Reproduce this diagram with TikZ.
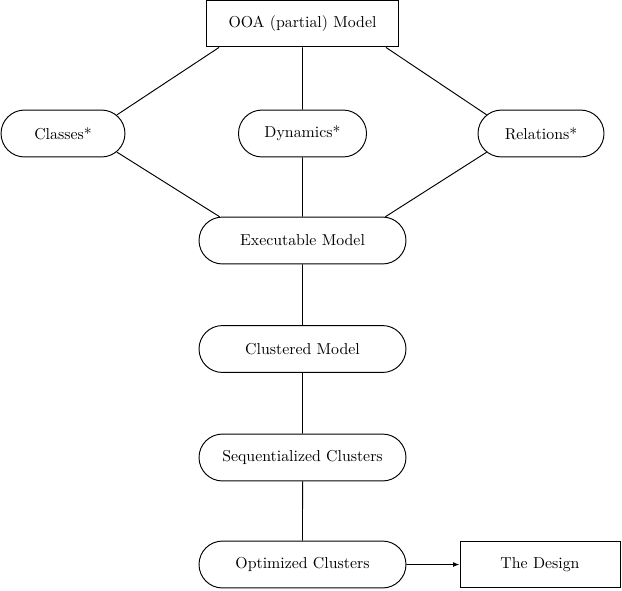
\documentclass[tikz,border=0pt]{standalone}
\usepackage{tikz}
\usetikzlibrary{shapes.misc,arrows.meta}
\tikzset{
  stage/.style={draw, rounded rectangle, minimum height=29.6pt, inner sep=0pt},
  result/.style={draw, rectangle, minimum height=29.6pt, inner sep=0pt},
}
\begin{document}
\begin{tikzpicture}[x=0.631pt, y=-0.631pt, line width=0.6pt]
	\useasboundingbox (0,0) rectangle (622,590);
	\node[result, minimum width=121pt] (ooa) at (302.5,23.5) {OOA (partial) Model};
	\node[stage, minimum width=78.2pt] (classes) at (63,133.5) {Classes*};
	\node[stage, minimum width=80.8pt] (dynamics) at (302.5,133.5) {Dynamics*};
	\node[stage, minimum width=79.5pt] (relations) at (541,133.5) {Relations*};
	\node[stage, minimum width=130.6pt] (exec) at (302.5,240.5) {Executable Model};
	\node[stage, minimum width=130.6pt] (clustered) at (302.5,349) {Clustered Model};
	\node[stage, minimum width=130.6pt] (seq) at (302.5,457.5) {Sequentialized Clusters};
	\node[stage, minimum width=130.6pt] (opt) at (302.5,564.5) {Optimized Clusters};
	\node[result, minimum width=101pt] (design) at (540,564.5) {The Design};
	\draw (ooa.196) -- (classes.19);
	\draw (ooa) -- (dynamics);
	\draw (ooa.-16) -- (relations.161);
	\draw (classes.-19) -- (exec.164);
	\draw (dynamics) -- (exec);
	\draw (relations.199) -- (exec.16);
	\draw (exec) -- (clustered);
	\draw (clustered) -- (seq);
	\draw (seq) -- (opt);
	\draw[-{Latex[length=4pt,width=3pt]}] (opt) -- (design);
\end{tikzpicture}
\end{document}
